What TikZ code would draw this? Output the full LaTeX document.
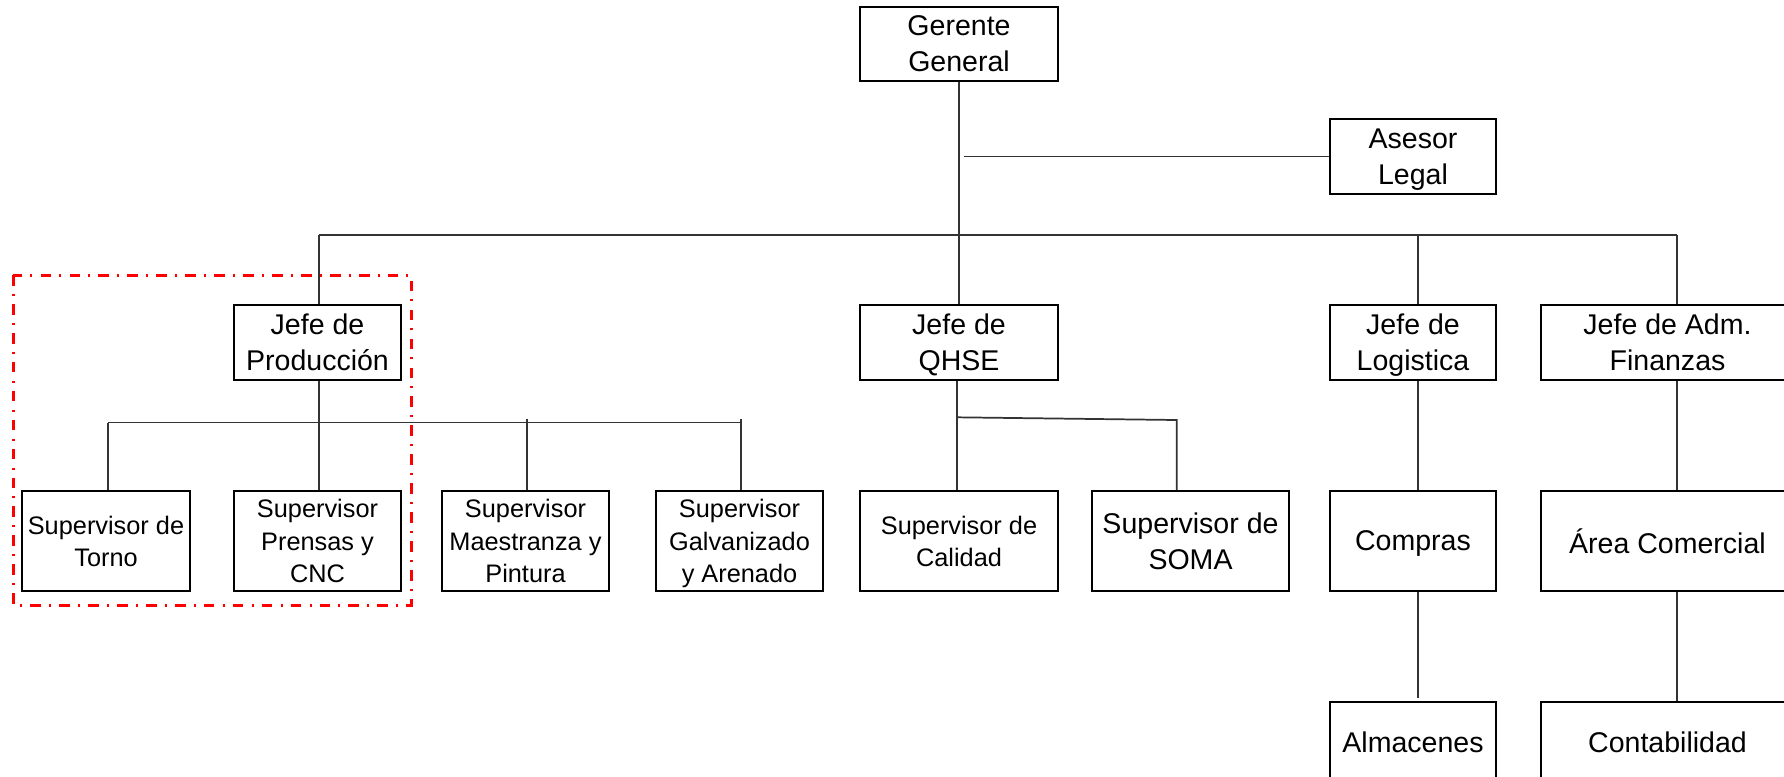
\documentclass[tikz,border=0pt]{standalone}
\usepackage{fontspec}
\setmainfont{Liberation Sans}
\tikzset{
  orgbox/.style={draw=black, line width=1.5pt, inner sep=0pt, align=center, fill=white, text depth=0pt},
  bigtxt/.style={font=\fontsize{21.4}{27}\selectfont},
  smalltxt/.style={font=\fontsize{19}{24.2}\selectfont},
  link/.style={draw=black!80, line width=1.3pt},
  focus/.style={draw=red, line width=2.25pt, dash pattern=on 8pt off 6.2pt on 1.5pt off 6pt}
}
% name, x1, y1, x2, y2, style, text  (coordinates in px, y downward)
\newcommand\placebox[7]{%
  \node[orgbox,#6,minimum width={(#4-#2)*0.75pt},minimum height={(#5-#3)*0.75pt}]
    (#1) at ({(#2+#4)/2},{(#3+#5)/2}) {#7};}
\begin{document}
\begin{tikzpicture}[x=0.75pt,y=-0.75pt]
\useasboundingbox (0,0) rectangle (1784,776);
\fill[white] (0,0) rectangle (1784,776);
\clip (0,0) rectangle (1784,776);

% connector junctions
\coordinate (aj) at (964,156.5);
\coordinate (busL) at (319,235.3);
\coordinate (bL) at (1418,235.3);
\coordinate (busR) at (1677,235.3);
\coordinate (pL) at (108,422.5);
\coordinate (pj) at (319,422.5);
\coordinate (pM) at (527,419);
\coordinate (pR) at (741,419);
\coordinate (pRb) at (741,422.5);
\coordinate (qL) at (956.7,417.3);
\coordinate (qR) at (1176.8,420);
\coordinate (almEnd) at (1418,697.5);

% boxes
\placebox{G}{860}{7}{1058}{81}{bigtxt}{Gerente\\General}
\placebox{A}{1330}{119}{1496}{194}{bigtxt}{Asesor\\Legal}
\placebox{JP}{234}{305}{401}{380}{bigtxt}{Jefe de\\Producción}
\placebox{JQ}{860}{305}{1058}{380}{bigtxt}{Jefe de\\QHSE}
\placebox{JL}{1330}{305}{1496}{380}{bigtxt}{Jefe de\\Logistica}
\placebox{JF}{1541}{305}{1794}{380}{bigtxt}{Jefe de Adm.\\Finanzas}
\placebox{ST}{22}{491}{190}{591}{smalltxt}{Supervisor de\\Torno}
\placebox{SP}{234}{491}{401}{591}{smalltxt}{Supervisor\\Prensas y\\CNC}
\placebox{SM}{442}{491}{609}{591}{smalltxt}{Supervisor\\Maestranza y\\Pintura}
\placebox{SG}{656}{491}{823}{591}{smalltxt}{Supervisor\\Galvanizado\\y Arenado}
\placebox{SC}{860}{491}{1058}{591}{smalltxt}{Supervisor de\\Calidad}
\placebox{SS}{1092}{491}{1289}{591}{bigtxt}{Supervisor de\\SOMA}
\placebox{CO}{1330}{491}{1496}{591}{bigtxt}{Compras}
\placebox{AC}{1541}{491}{1794}{591}{bigtxt}{Área Comercial}
\placebox{AL}{1330}{702}{1496}{782}{bigtxt}{Almacenes}
\placebox{CT}{1541}{702}{1794}{782}{bigtxt}{Contabilidad}

% connectors
\draw[link] (G.south) -- (JQ.north);
\draw[link] (aj) -- (A.west);
\draw[link] (busL) -- (busR);
\draw[link] (busL) -- (busL |- JP.north);
\draw[link] (bL) -- (bL |- JL.north);
\draw[link] (busR) -- (busR |- JF.north);

\draw[link] (pj |- JP.south) -- (pj |- SP.north);
\draw[link] (pL) -- (pRb);
\draw[link] (pL) -- (pL |- ST.north);
\draw[link] (pM) -- (pM |- SM.north);
\draw[link] (pR) -- (pR |- SG.north);

\draw[link] (qL |- JQ.south) -- (qL |- SC.north);
\draw[link] (qL) -- (qR) -- (qR |- SS.north);

\draw[link] (bL |- JL.south) -- (bL |- CO.north);
\draw[link] (bL |- CO.south) -- (almEnd);
\draw[link] (busR |- JF.south) -- (busR |- AC.north);
\draw[link] (busR |- AC.south) -- (busR |- CT.north);

% highlighted group
\draw[focus] (13,275) rectangle (411,605);
\end{tikzpicture}
\end{document}
